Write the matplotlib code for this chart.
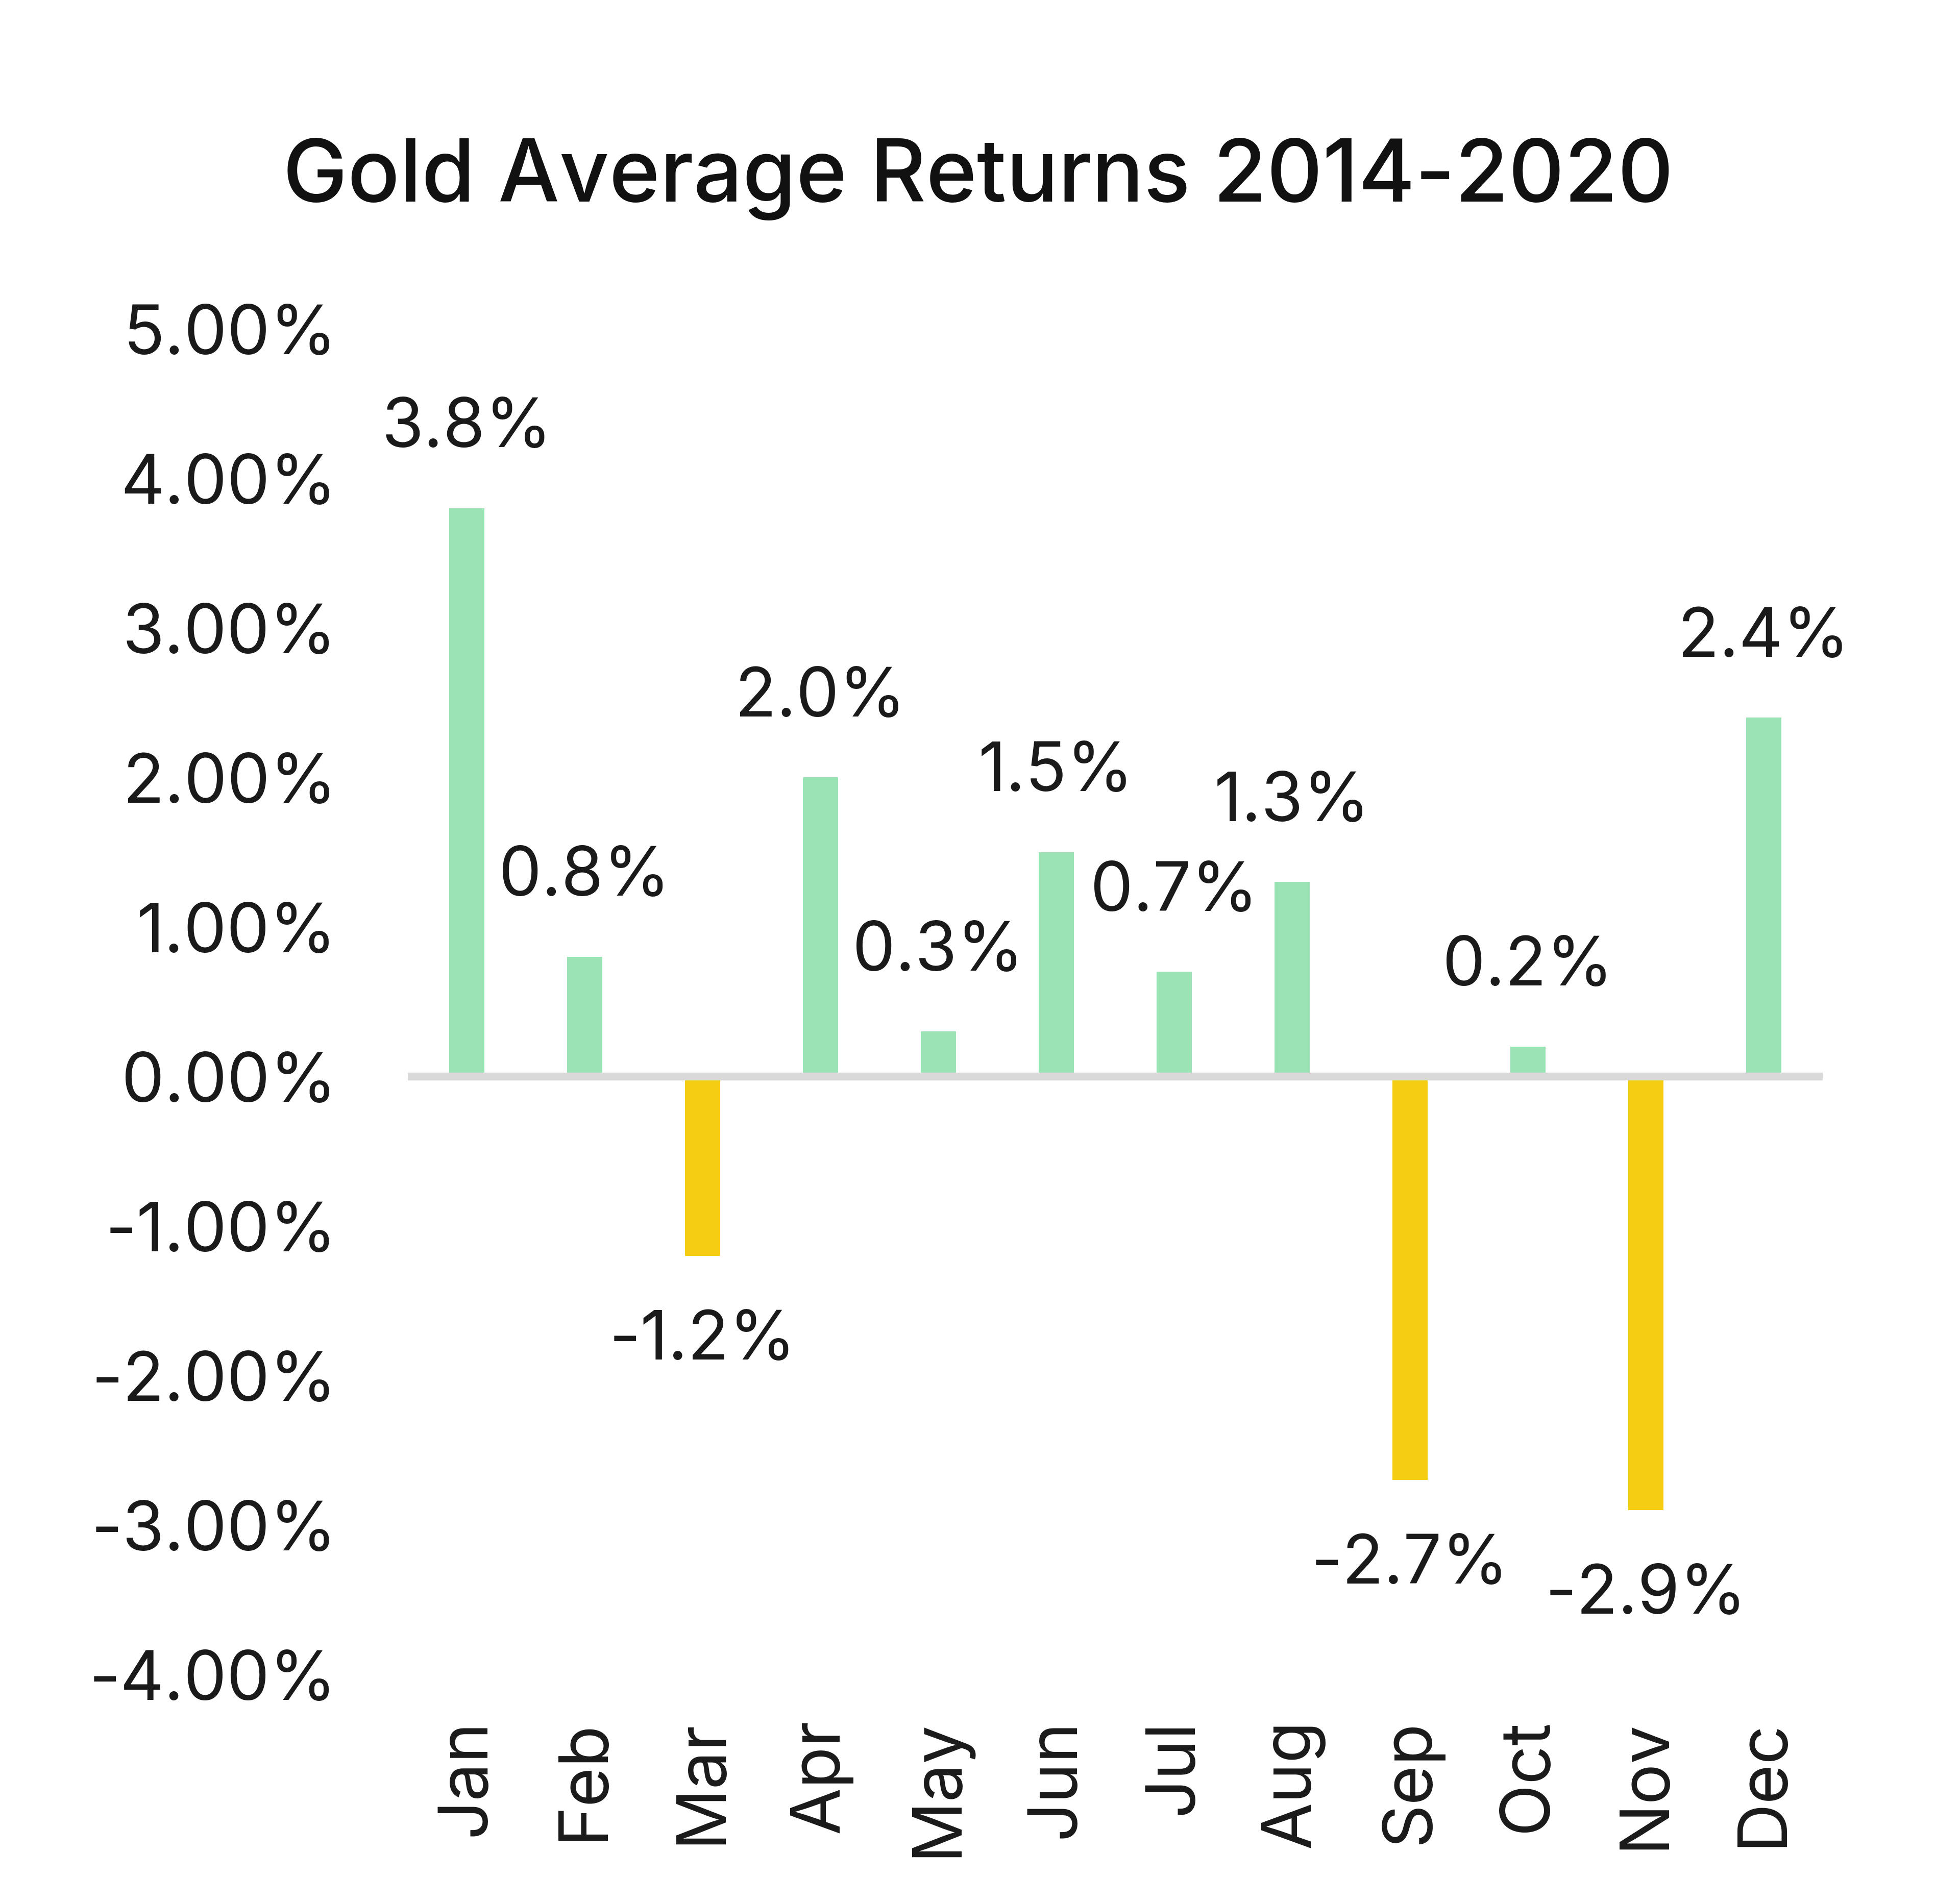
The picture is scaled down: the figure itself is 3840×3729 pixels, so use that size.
import matplotlib
matplotlib.use("Agg")
import matplotlib.pyplot as plt
from matplotlib.ticker import FuncFormatter

# -------------------------------------------------
# Data
# -------------------------------------------------
months = ["Jan", "Feb", "Mar", "Apr", "May", "Jun",
          "Jul", "Aug", "Sep", "Oct", "Nov", "Dec"]
returns = [3.8, 0.8, -1.2, 2.0, 0.3, 1.5, 0.7, 1.3, -2.7, 0.2, -2.9, 2.4]
y_ticks = [5, 4, 3, 2, 1, 0, -1, -2, -3, -4]

GREEN = "#9ae3b5"
YELLOW = "#f5cd12"

plt.rcParams["font.family"] = ["Inter", "DejaVu Sans"]

fig = plt.figure(figsize=(38.4, 37.3), dpi=100)
ax = fig.add_axes([0.208, 0.12, 0.722, 0.707])

colors = [GREEN if v >= 0 else YELLOW for v in returns]
x = list(range(len(months)))
ax.bar(x, returns, width=0.3, color=colors, zorder=2)
ax.axhline(0, color="#d9d9d9", linewidth=11, zorder=3)

# value labels
for xi, v in zip(x, returns):
    off = 112 if v >= 0 else -120
    ax.annotate(f"{v:.1f}%", (xi, v), xytext=(0, off),
                textcoords="offset points", ha="center", va="center",
                fontsize=96, color="#1a1a1a")

ax.set_xlim(-0.5, 11.5)
ax.set_ylim(-4, 5)
ax.set_yticks(y_ticks)
ax.yaxis.set_major_formatter(FuncFormatter(lambda v, _: f"{v:.2f}%"))
ax.set_xticks(x)
ax.set_xticklabels(months, rotation=90, ha="center", va="top")

ax.tick_params(axis="both", length=0, labelsize=96, colors="#1a1a1a")
ax.tick_params(axis="y", pad=100)
ax.tick_params(axis="x", pad=62)
for s in ax.spines.values():
    s.set_visible(False)

fig.text(0.499, 0.906, "Gold Average Returns 2014-2020", ha="center",
         va="center", fontsize=122, fontweight="medium", color="#111111")

fig.savefig("out.png", dpi=100, facecolor="white")
